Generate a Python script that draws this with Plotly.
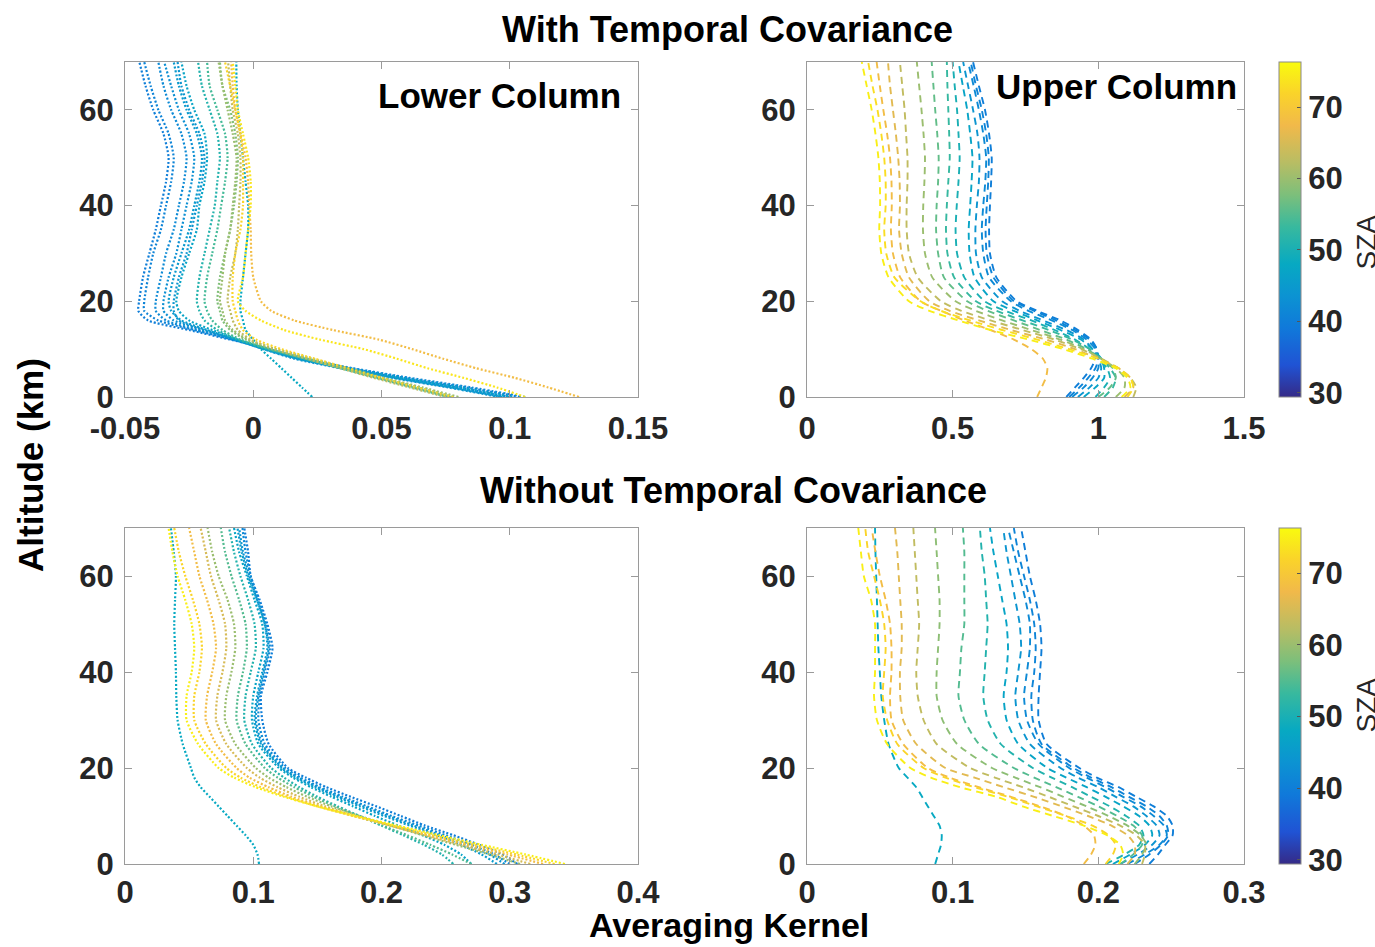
import plotly.graph_objects as go
from plotly.colors import sample_colorscale

# ---------------- data ----------------
ALT_KM = [0, 2, 4, 6, 8, 10, 12, 14, 16, 18, 20, 25, 30, 35, 40, 45, 50, 55, 60, 65, 70]

# With temporal covariance - lower column
TL_SZA = [40, 41, 42, 43, 44, 45, 47, 48, 51, 54, 58, 60, 63, 68, 72, 74]
TL_AK = [
    [0.104, 0.083, 0.059, 0.038, 0.019, 0.007, -0.009, -0.025, -0.041, -0.0448, -0.0445, -0.043, -0.0405, -0.038, -0.036, -0.034, -0.033, -0.035, -0.039, -0.042, -0.0444],
    [0.100, 0.080, 0.057, 0.037, 0.018, 0.006, -0.008, -0.023, -0.037, -0.0425, -0.0425, -0.041, -0.039, -0.036, -0.034, -0.032, -0.031, -0.033, -0.037, -0.040, -0.0425],
    [0.106, 0.085, 0.061, 0.039, 0.019, 0.005, -0.008, -0.022, -0.034, -0.038, -0.038, -0.036, -0.034, -0.031, -0.029, -0.027, -0.026, -0.028, -0.032, -0.035, -0.037],
    [0.098, 0.078, 0.056, 0.036, 0.018, 0.005, -0.007, -0.020, -0.031, -0.035, -0.035, -0.033, -0.030, -0.028, -0.026, -0.024, -0.023, -0.025, -0.029, -0.032, -0.0347],
    [0.096, 0.076, 0.054, 0.034, 0.016, 0.004, -0.007, -0.019, -0.029, -0.031, -0.031, -0.029, -0.026, -0.024, -0.022, -0.020, -0.019, -0.021, -0.025, -0.028, -0.0295],
    [0.097, 0.077, 0.055, 0.035, 0.017, 0.004, -0.007, -0.018, -0.028, -0.032, -0.033, -0.031, -0.028, -0.025, -0.023, -0.021, -0.020, -0.022, -0.026, -0.029, -0.031],
    [0.101, 0.081, 0.058, 0.037, 0.018, 0.005, -0.006, -0.016, -0.025, -0.029, -0.030, -0.028, -0.025, -0.022, -0.021, -0.019, -0.018, -0.019, -0.023, -0.026, -0.028],
    [0.023, 0.019, 0.015, 0.011, 0.007, 0.003, 0.000, -0.003, -0.004, -0.005, -0.005, -0.004, -0.003, -0.002, -0.002, -0.003, -0.004, -0.005, -0.006, -0.0065, -0.0066],
    [0.078, 0.064, 0.050, 0.036, 0.021, 0.006, -0.006, -0.014, -0.019, -0.021, -0.022, -0.021, -0.019, -0.017, -0.015, -0.014, -0.013, -0.014, -0.017, -0.020, -0.0215],
    [0.076, 0.062, 0.048, 0.034, 0.020, 0.006, -0.005, -0.012, -0.016, -0.018, -0.019, -0.018, -0.016, -0.014, -0.0125, -0.011, -0.010, -0.011, -0.014, -0.017, -0.018],
    [0.077, 0.063, 0.049, 0.035, 0.021, 0.007, -0.003, -0.009, -0.012, -0.013, -0.014, -0.013, -0.011, -0.009, -0.0075, -0.0065, -0.006, -0.007, -0.009, -0.012, -0.013],
    [0.080, 0.066, 0.051, 0.037, 0.023, 0.009, -0.002, -0.008, -0.011, -0.012, -0.013, -0.012, -0.011, -0.009, -0.008, -0.007, -0.0065, -0.008, -0.010, -0.012, -0.0135],
    [0.075, 0.061, 0.047, 0.034, 0.021, 0.008, -0.001, -0.006, -0.008, -0.009, -0.010, -0.009, -0.007, -0.006, -0.0055, -0.005, -0.005, -0.006, -0.008, -0.009, -0.0098],
    [0.127, 0.115, 0.102, 0.087, 0.074, 0.062, 0.049, 0.031, 0.016, 0.007, 0.003, 0.000, -0.0008, -0.001, -0.0016, -0.002, -0.003, -0.005, -0.007, -0.008, -0.0086],
    [0.078, 0.064, 0.050, 0.037, 0.024, 0.011, 0.001, -0.004, -0.006, -0.007, -0.008, -0.008, -0.007, -0.005, -0.004, -0.004, -0.004, -0.005, -0.007, -0.009, -0.011],
    [0.106, 0.095, 0.082, 0.068, 0.056, 0.043, 0.026, 0.012, 0.003, -0.003, -0.006, -0.004, -0.003, -0.002, -0.001, -0.001, -0.002, -0.004, -0.006, -0.007, -0.008],
]

# With temporal covariance - upper column
TR_SZA = [40, 41, 42, 44, 47, 50, 53, 56, 60, 63, 66, 68, 73, 75]
TR_AK = [
    [0.89, 0.92, 0.95, 0.975, 0.99, 0.995, 0.975, 0.93, 0.87, 0.79, 0.72, 0.65, 0.628, 0.625, 0.628, 0.632, 0.634, 0.625, 0.611, 0.59, 0.57],
    [0.90, 0.935, 0.965, 0.99, 1.0, 0.995, 0.97, 0.92, 0.855, 0.78, 0.71, 0.64, 0.617, 0.613, 0.617, 0.622, 0.624, 0.615, 0.60, 0.58, 0.562],
    [0.91, 0.95, 0.98, 1.00, 1.00, 0.99, 0.96, 0.91, 0.84, 0.76, 0.70, 0.625, 0.605, 0.60, 0.605, 0.612, 0.615, 0.605, 0.59, 0.572, 0.553],
    [0.93, 0.97, 1.00, 1.01, 1.00, 0.98, 0.95, 0.89, 0.81, 0.73, 0.67, 0.60, 0.58, 0.578, 0.583, 0.59, 0.592, 0.585, 0.57, 0.553, 0.536],
    [0.95, 0.99, 1.02, 1.02, 1.01, 0.98, 0.94, 0.87, 0.79, 0.71, 0.64, 0.575, 0.558, 0.555, 0.56, 0.565, 0.568, 0.56, 0.55, 0.535, 0.52],
    [0.99, 1.02, 1.04, 1.03, 1.00, 0.97, 0.92, 0.85, 0.77, 0.68, 0.61, 0.54, 0.515, 0.51, 0.514, 0.52, 0.524, 0.52, 0.515, 0.507, 0.50],
    [1.02, 1.05, 1.06, 1.04, 1.01, 0.97, 0.91, 0.83, 0.74, 0.65, 0.58, 0.505, 0.482, 0.477, 0.48, 0.485, 0.49, 0.488, 0.485, 0.482, 0.48],
    [1.00, 1.04, 1.06, 1.05, 1.01, 0.96, 0.89, 0.80, 0.71, 0.62, 0.55, 0.47, 0.45, 0.443, 0.445, 0.45, 0.452, 0.447, 0.44, 0.434, 0.428],
    [1.06, 1.09, 1.09, 1.06, 1.01, 0.95, 0.87, 0.77, 0.67, 0.58, 0.51, 0.43, 0.405, 0.398, 0.399, 0.403, 0.405, 0.40, 0.393, 0.385, 0.377],
    [1.12, 1.13, 1.11, 1.07, 1.01, 0.94, 0.85, 0.74, 0.63, 0.53, 0.46, 0.38, 0.35, 0.342, 0.342, 0.345, 0.345, 0.34, 0.335, 0.327, 0.319],
    [1.09, 1.12, 1.11, 1.07, 1.00, 0.92, 0.82, 0.70, 0.59, 0.49, 0.42, 0.35, 0.325, 0.316, 0.319, 0.318, 0.313, 0.305, 0.295, 0.285, 0.278],
    [0.79, 0.805, 0.82, 0.825, 0.81, 0.77, 0.71, 0.63, 0.54, 0.46, 0.39, 0.32, 0.295, 0.288, 0.291, 0.29, 0.285, 0.275, 0.262, 0.25, 0.239],
    [1.10, 1.12, 1.11, 1.07, 1.00, 0.90, 0.79, 0.67, 0.56, 0.46, 0.39, 0.30, 0.272, 0.265, 0.27, 0.27, 0.265, 0.255, 0.242, 0.225, 0.21],
    [1.08, 1.11, 1.10, 1.06, 0.98, 0.88, 0.76, 0.63, 0.52, 0.42, 0.35, 0.28, 0.255, 0.248, 0.251, 0.25, 0.245, 0.235, 0.222, 0.205, 0.188],
]

# Without temporal covariance - lower column
BL_SZA = [40, 42, 44, 45, 47, 48, 51, 55, 60, 65, 68, 72, 75]
BL_AK = [
    [0.306, 0.294, 0.276, 0.256, 0.234, 0.215, 0.196, 0.176, 0.157, 0.141, 0.127, 0.112, 0.107, 0.106, 0.111, 0.115, 0.111, 0.105, 0.098, 0.096, 0.093],
    [0.300, 0.288, 0.270, 0.250, 0.229, 0.208, 0.189, 0.170, 0.152, 0.137, 0.125, 0.109, 0.104, 0.105, 0.109, 0.113, 0.110, 0.104, 0.098, 0.094, 0.0916],
    [0.296, 0.284, 0.266, 0.246, 0.225, 0.205, 0.186, 0.167, 0.150, 0.135, 0.123, 0.107, 0.102, 0.104, 0.108, 0.112, 0.109, 0.103, 0.097, 0.092, 0.089],
    [0.290, 0.278, 0.262, 0.243, 0.222, 0.202, 0.183, 0.165, 0.148, 0.133, 0.122, 0.106, 0.101, 0.103, 0.107, 0.111, 0.109, 0.103, 0.096, 0.091, 0.0877],
    [0.270, 0.262, 0.249, 0.232, 0.213, 0.195, 0.178, 0.161, 0.145, 0.131, 0.120, 0.104, 0.099, 0.100, 0.104, 0.108, 0.107, 0.101, 0.095, 0.089, 0.085],
    [0.1045, 0.1033, 0.100, 0.094, 0.087, 0.080, 0.073, 0.066, 0.059, 0.054, 0.0514, 0.045, 0.041, 0.040, 0.0397, 0.039, 0.0384, 0.039, 0.0397, 0.038, 0.0358],
    [0.256, 0.247, 0.233, 0.217, 0.200, 0.183, 0.166, 0.150, 0.136, 0.124, 0.114, 0.099, 0.093, 0.094, 0.098, 0.102, 0.101, 0.096, 0.090, 0.085, 0.0812],
    [0.270, 0.255, 0.238, 0.220, 0.201, 0.182, 0.164, 0.147, 0.132, 0.119, 0.109, 0.094, 0.087, 0.088, 0.092, 0.095, 0.094, 0.089, 0.083, 0.078, 0.0747],
    [0.308, 0.284, 0.258, 0.232, 0.207, 0.183, 0.161, 0.142, 0.126, 0.112, 0.102, 0.086, 0.078, 0.079, 0.083, 0.086, 0.085, 0.080, 0.073, 0.068, 0.0644],
    [0.316, 0.290, 0.262, 0.234, 0.207, 0.180, 0.156, 0.136, 0.119, 0.105, 0.095, 0.079, 0.071, 0.072, 0.076, 0.079, 0.078, 0.073, 0.067, 0.063, 0.059],
    [0.326, 0.298, 0.267, 0.236, 0.207, 0.178, 0.152, 0.130, 0.112, 0.097, 0.087, 0.071, 0.063, 0.064, 0.068, 0.071, 0.069, 0.064, 0.058, 0.054, 0.050],
    [0.335, 0.305, 0.272, 0.240, 0.209, 0.178, 0.150, 0.126, 0.106, 0.090, 0.079, 0.063, 0.054, 0.054, 0.058, 0.060, 0.058, 0.053, 0.047, 0.042, 0.0384],
    [0.343, 0.312, 0.278, 0.245, 0.212, 0.180, 0.150, 0.124, 0.102, 0.085, 0.073, 0.057, 0.048, 0.048, 0.052, 0.054, 0.052, 0.047, 0.041, 0.037, 0.034],
]

# Without temporal covariance - upper column
BR_SZA = [40, 41, 42, 44, 47, 48, 51, 55, 59, 63, 66, 68, 72, 75]
BR_AK = [
    [0.235, 0.241, 0.246, 0.251, 0.251, 0.247, 0.238, 0.226, 0.214, 0.199, 0.187, 0.1645, 0.159, 0.159, 0.160, 0.161, 0.160, 0.157, 0.153, 0.150, 0.147],
    [0.225, 0.235, 0.243, 0.248, 0.247, 0.242, 0.233, 0.221, 0.209, 0.195, 0.183, 0.161, 0.155, 0.154, 0.156, 0.157, 0.156, 0.153, 0.149, 0.145, 0.142],
    [0.220, 0.232, 0.242, 0.247, 0.245, 0.238, 0.229, 0.217, 0.205, 0.192, 0.180, 0.159, 0.151, 0.149, 0.151, 0.153, 0.153, 0.150, 0.146, 0.142, 0.138],
    [0.215, 0.227, 0.237, 0.242, 0.240, 0.233, 0.224, 0.212, 0.200, 0.186, 0.174, 0.153, 0.145, 0.143, 0.145, 0.147, 0.146, 0.143, 0.140, 0.137, 0.1347],
    [0.210, 0.222, 0.232, 0.237, 0.235, 0.228, 0.217, 0.205, 0.192, 0.178, 0.165, 0.145, 0.137, 0.135, 0.137, 0.138, 0.137, 0.134, 0.131, 0.128, 0.1256],
    [0.088, 0.090, 0.092, 0.0925, 0.091, 0.087, 0.083, 0.079, 0.075, 0.069, 0.063, 0.056, 0.053, 0.051, 0.050, 0.049, 0.0485, 0.048, 0.0475, 0.047, 0.0467],
    [0.205, 0.218, 0.228, 0.231, 0.228, 0.219, 0.208, 0.195, 0.182, 0.168, 0.155, 0.133, 0.124, 0.121, 0.122, 0.123, 0.124, 0.123, 0.122, 0.120, 0.1187],
    [0.215, 0.224, 0.230, 0.230, 0.224, 0.213, 0.200, 0.186, 0.171, 0.156, 0.142, 0.118, 0.108, 0.104, 0.105, 0.106, 0.108, 0.108, 0.108, 0.108, 0.107],
    [0.225, 0.230, 0.233, 0.229, 0.220, 0.207, 0.192, 0.176, 0.160, 0.143, 0.127, 0.103, 0.093, 0.089, 0.089, 0.090, 0.091, 0.091, 0.090, 0.089, 0.0879],
    [0.230, 0.232, 0.232, 0.226, 0.215, 0.200, 0.183, 0.166, 0.148, 0.129, 0.112, 0.089, 0.080, 0.076, 0.075, 0.076, 0.077, 0.076, 0.075, 0.074, 0.073],
    [0.220, 0.225, 0.225, 0.220, 0.209, 0.193, 0.175, 0.156, 0.135, 0.115, 0.095, 0.075, 0.066, 0.064, 0.0638, 0.065, 0.065, 0.064, 0.063, 0.062, 0.0604],
    [0.190, 0.195, 0.198, 0.197, 0.190, 0.178, 0.160, 0.140, 0.118, 0.098, 0.083, 0.066, 0.058, 0.057, 0.058, 0.058, 0.057, 0.054, 0.050, 0.047, 0.0444],
    [0.205, 0.210, 0.212, 0.207, 0.196, 0.178, 0.158, 0.138, 0.115, 0.095, 0.080, 0.062, 0.055, 0.052, 0.053, 0.054, 0.053, 0.050, 0.046, 0.042, 0.040],
    [0.214, 0.217, 0.215, 0.206, 0.190, 0.169, 0.148, 0.130, 0.105, 0.085, 0.071, 0.055, 0.048, 0.046, 0.0467, 0.0467, 0.0467, 0.044, 0.039, 0.037, 0.0352],
]

SZA_MIN, SZA_MAX = 29.4, 76.3
CBAR_TICKS = [30, 40, 50, 60, 70]
ALT_TICKS = [0, 20, 40, 60]
TL_TICKS = [-0.05, 0, 0.05, 0.1, 0.15]
TL_TICKTEXT = ["-0.05", "0", "0.05", "0.1", "0.15"]
TR_TICKS = [0, 0.5, 1, 1.5]
TR_TICKTEXT = ["0", "0.5", "1", "1.5"]
BL_TICKS = [0, 0.1, 0.2, 0.3, 0.4]
BL_TICKTEXT = ["0", "0.1", "0.2", "0.3", "0.4"]
BR_TICKS = [0, 0.1, 0.2, 0.3]
BR_TICKTEXT = ["0", "0.1", "0.2", "0.3"]

# ---------------- styling ----------------
PARULA = [
    [0.0, "rgb(53,42,135)"], [0.095, "rgb(32,83,212)"], [0.206, "rgb(16,121,218)"],
    [0.302, "rgb(12,147,210)"], [0.397, "rgb(7,169,194)"], [0.508, "rgb(56,185,158)"],
    [0.603, "rgb(124,191,123)"], [0.698, "rgb(183,189,100)"], [0.810, "rgb(241,185,74)"],
    [0.905, "rgb(250,211,42)"], [1.0, "rgb(249,251,14)"],
]
FONT = "Liberation Sans, Arial, Helvetica, sans-serif"
W, H = 1375, 947


def color_of(sza):
    t = (sza - SZA_MIN) / (SZA_MAX - SZA_MIN)
    return sample_colorscale(PARULA, [min(max(t, 0), 1)])[0]


fig = go.Figure()

panels = [
    (TL_SZA, TL_AK, "x", "y", "2px,2px", 2.2),
    (TR_SZA, TR_AK, "x2", "y2", "7px,5px", 1.9),
    (BL_SZA, BL_AK, "x3", "y3", "2px,2px", 2.2),
    (BR_SZA, BR_AK, "x4", "y4", "7px,5px", 1.9),
]
for szas, curves, xa, ya, dash, lw in panels:
    for sza, vals in zip(szas, curves):
        fig.add_trace(go.Scatter(
            x=vals, y=ALT_KM, mode="lines", xaxis=xa, yaxis=ya,
            line=dict(color=color_of(sza), width=lw, dash=dash, shape="spline", smoothing=0.6),
            showlegend=False, hoverinfo="skip"))


def cbar(ytop_px, len_px):
    return dict(
        x=1279 / W, xanchor="left", xpad=0, ypad=0,
        y=1 - ytop_px / H, yanchor="top", len=len_px / H, lenmode="fraction",
        thickness=22, thicknessmode="pixels",
        outlinewidth=1, outlinecolor="#8a8a8a",
        tickvals=CBAR_TICKS, ticks="inside", ticklen=4, tickcolor="#555555",
        tickfont=dict(family=FONT, size=31, color="#262626", weight="bold"),
    )


for xa, ya, ytop, ln in [("x2", "y2", 62, 335), ("x4", "y4", 528, 336)]:
    fig.add_trace(go.Scatter(
        x=[0], y=[-100], mode="markers", xaxis=xa, yaxis=ya,
        marker=dict(size=1, color=[SZA_MIN], colorscale=PARULA, cmin=SZA_MIN, cmax=SZA_MAX,
                    showscale=True, colorbar=cbar(ytop, ln)),
        showlegend=False, hoverinfo="skip"))

tickfont = dict(family=FONT, size=31, color="#262626", weight="bold")
axis_common = dict(showline=True, linecolor="#9a9a9a", linewidth=1, mirror="ticks",
                   ticks="inside", ticklen=7, tickcolor="#9a9a9a", showgrid=False,
                   zeroline=False, tickfont=tickfont, fixedrange=True, automargin=False)

ytop_dom = [(H - 397) / H, (H - 62) / H]
ybot_dom = [(H - 864) / H, (H - 528) / H]
xl_dom = [125 / W, 638 / W]
xr_dom = [807 / W, 1244 / W]

fig.update_layout(
    width=W, height=H, margin=dict(l=0, r=0, t=0, b=0, autoexpand=False),
    paper_bgcolor="white", plot_bgcolor="white",
    xaxis=dict(domain=xl_dom, anchor="y", range=[-0.05, 0.15], tickvals=TL_TICKS, ticktext=TL_TICKTEXT,
               ticklabelstandoff=4, **axis_common),
    yaxis=dict(domain=ytop_dom, anchor="x", range=[0, 70], tickvals=ALT_TICKS, ticklabelstandoff=4, **axis_common),
    xaxis2=dict(domain=xr_dom, anchor="y2", range=[0, 1.5], tickvals=TR_TICKS, ticktext=TR_TICKTEXT,
                ticklabelstandoff=4, **axis_common),
    yaxis2=dict(domain=ytop_dom, anchor="x2", range=[0, 70], tickvals=ALT_TICKS, ticklabelstandoff=4, **axis_common),
    xaxis3=dict(domain=xl_dom, anchor="y3", range=[0, 0.4], tickvals=BL_TICKS, ticktext=BL_TICKTEXT,
                ticklabelstandoff=1, **axis_common),
    yaxis3=dict(domain=ybot_dom, anchor="x3", range=[0, 70], tickvals=ALT_TICKS, ticklabelstandoff=4, **axis_common),
    xaxis4=dict(domain=xr_dom, anchor="y4", range=[0, 0.3], tickvals=BR_TICKS, ticktext=BR_TICKTEXT,
                ticklabelstandoff=1, **axis_common),
    yaxis4=dict(domain=ybot_dom, anchor="x4", range=[0, 70], tickvals=ALT_TICKS, ticklabelstandoff=4, **axis_common),
)

title_font = dict(family=FONT, size=36, color="black", weight="bold")
label_font = dict(family=FONT, size=35, color="black", weight="bold")


def ann(text, xpx, ypx, xanchor="center", angle=0, font=label_font, yanchor="middle"):
    fig.add_annotation(text=text, x=xpx / W, y=1 - ypx / H, xref="paper", yref="paper",
                       xanchor=xanchor, yanchor=yanchor, showarrow=False,
                       textangle=angle, font=font)


ann("With Temporal Covariance", 727, 30, font=title_font)
ann("Without Temporal Covariance", 733, 490, font=title_font)
ann("Lower Column", 623, 95, xanchor="right")
ann("Upper Column", 1239, 87, xanchor="right")
ann("Averaging Kernel", 729, 946, font=dict(family=FONT, size=34, color="black", weight="bold"),
    yanchor="bottom")
ann("Altitude (km)", 30, 465, angle=-90)
sza_font = dict(family=FONT, size=28, color="#262626")
ann("SZA", 1348, 242, xanchor="left", angle=-90, font=sza_font)
ann("SZA", 1348, 705, xanchor="left", angle=-90, font=sza_font)

fig.write_html("out.html")
